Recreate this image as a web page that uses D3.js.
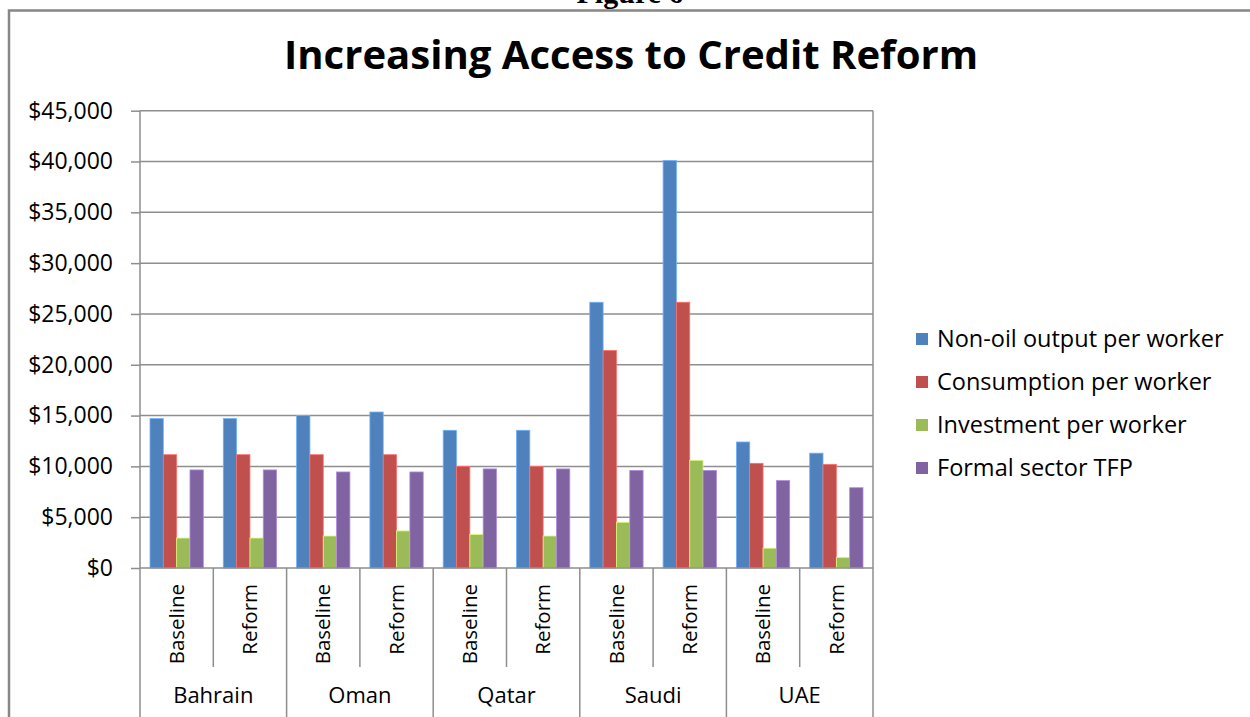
<!DOCTYPE html>
<html>
<head>
  <meta charset="utf-8">
  <title>Increasing Access to Credit Reform</title>
  <style>
    body { margin: 0; background: #fff; }
    text { font-family: "Open Sans", sans-serif; fill: #000; }
  </style>
</head>
<body>
  <svg width="1250" height="717"></svg>
  <script src="https://d3js.org/d3.v7.min.js"></script>
  <script>
    // chart data
    var countries = ["Bahrain", "Oman", "Qatar", "Saudi", "UAE"];
    var scenarios = ["Baseline", "Reform"];
    var seriesNames = ["Non-oil output per worker", "Consumption per worker",
                       "Investment per worker", "Formal sector TFP"];
    var colors = ["#4F81BD", "#C0504D", "#9BBB59", "#8064A2"];
    var nonOil      = [14700, 14700, 15000, 15350, 13550, 13550, 26150, 40100, 12400, 11300];
    var consumption = [11150, 11150, 11150, 11150, 10000, 10000, 21400, 26150, 10300, 10200];
    var investment  = [2950, 2950, 3150, 3650, 3300, 3150, 4500, 10600, 1950, 1050];
    var tfp         = [9650, 9650, 9450, 9450, 9750, 9750, 9600, 9600, 8600, 7900];
    var yTicks = [0, 5000, 10000, 15000, 20000, 25000, 30000, 35000, 40000, 45000];

    var values = [nonOil, consumption, investment, tfp];
    var slots = [];
    countries.forEach(function (c, i) {
      scenarios.forEach(function (s, j) {
        slots.push({ country: c, scenario: s, idx: i * 2 + j });
      });
    });

    var svg = d3.select("svg");
    var plotLeft = 140, plotRight = 873, plotTop = 110.7, plotBottom = 568, frameBottom = 712;

    // "Figure 6" caption, mostly cropped at the top
    svg.append("text")
      .attr("x", 630).attr("y", 3)
      .attr("text-anchor", "middle")
      .style("font-family", "'Liberation Serif', serif")
      .style("font-weight", "bold")
      .style("font-size", "30px")
      .text("Figure 6");

    // chart frame
    svg.append("rect")
      .attr("x", 9).attr("y", 10.5)
      .attr("width", 1300).attr("height", 800)
      .attr("fill", "none")
      .attr("stroke", "#878787")
      .attr("stroke-width", 2.5);

    svg.append("text")
      .attr("x", 631).attr("y", 69)
      .attr("text-anchor", "middle")
      .attr("textLength", 694)
      .attr("lengthAdjust", "spacingAndGlyphs")
      .style("font-weight", "bold")
      .style("font-size", "40px")
      .text("Increasing Access to Credit Reform");

    var y = d3.scaleLinear().domain([0, 45000]).range([plotBottom, plotTop]);
    var x = d3.scaleBand().domain(d3.range(slots.length)).range([plotLeft, plotRight]);
    var gap = x.bandwidth() * 1.5 / 5.5;
    var xs = d3.scaleBand().domain(d3.range(4)).range([gap / 2, x.bandwidth() - gap / 2]);

    // gridlines
    svg.append("g").selectAll("line")
      .data(yTicks.slice(1))
      .enter().append("line")
      .attr("x1", plotLeft).attr("x2", plotRight)
      .attr("y1", function (d) { return y(d); })
      .attr("y2", function (d) { return y(d); })
      .attr("stroke", "#8e8e8e")
      .attr("stroke-width", 1.5);

    // y axis
    var yAxis = svg.append("g")
      .attr("transform", "translate(" + plotLeft + ",0)")
      .call(d3.axisLeft(y).tickValues(yTicks).tickSize(9).tickPadding(18)
        .tickFormat(function (d) { return "$" + d3.format(",")(d); }));
    yAxis.select(".domain").remove();
    yAxis.selectAll(".tick line").attr("stroke", "#8e8e8e").attr("stroke-width", 1.5);
    yAxis.selectAll(".tick text")
      .attr("fill", "#000")
      .style("font-family", "'Open Sans', sans-serif")
      .style("font-size", "23px");

    // bars
    var groups = svg.append("g").selectAll("g")
      .data(slots)
      .enter().append("g")
      .attr("transform", function (d) { return "translate(" + x(d.idx) + ",0)"; });

    groups.selectAll("rect")
      .data(function (d) {
        return values.map(function (arr, k) { return { k: k, v: arr[d.idx] }; });
      })
      .enter().append("rect")
      .attr("x", function (d) { return xs(d.k); })
      .attr("width", xs.bandwidth())
      .attr("y", function (d) { return y(d.v); })
      .attr("height", function (d) { return y(0) - y(d.v); })
      .attr("fill", function (d) { return colors[d.k]; })
      .attr("stroke", function (d) { return d3.color(colors[d.k]).brighter(0.9); })
      .attr("stroke-width", 0.8);

    // axis lines and category dividers
    svg.append("line")
      .attr("x1", plotLeft).attr("x2", plotRight).attr("y1", plotBottom).attr("y2", plotBottom)
      .attr("stroke", "#8e8e8e").attr("stroke-width", 1.5);
    svg.append("g").selectAll("line")
      .data(d3.range(slots.length + 1))
      .enter().append("line")
      .attr("x1", function (d) { return d === slots.length ? plotRight : x(d); })
      .attr("x2", function (d) { return d === slots.length ? plotRight : x(d); })
      .attr("y1", function (d) { return d === 0 || d === slots.length ? plotTop : plotBottom; })
      .attr("y2", function (d) { return d % 2 === 0 ? frameBottom + 10 : 667; })
      .attr("stroke", "#8e8e8e")
      .attr("stroke-width", 1.5);

    // scenario labels (rotated)
    svg.append("g").selectAll("text")
      .data(slots)
      .enter().append("text")
      .attr("transform", function (d) {
        return "translate(" + (x(d.idx) + x.bandwidth() / 2) + ",584) rotate(-90)";
      })
      .attr("text-anchor", "end")
      .attr("dy", "0.35em")
      .style("font-size", "20.5px")
      .text(function (d) { return d.scenario; });

    // country labels
    svg.append("g").selectAll("text")
      .data(countries)
      .enter().append("text")
      .attr("x", function (d, i) { return x(i * 2) + x.bandwidth(); })
      .attr("y", 703)
      .attr("text-anchor", "middle")
      .style("font-size", "22px")
      .text(function (d) { return d; });

    // legend
    var legend = svg.append("g").selectAll("g")
      .data(seriesNames)
      .enter().append("g")
      .attr("transform", function (d, i) { return "translate(916," + (339 + i * 43) + ")"; });
    legend.append("rect")
      .attr("x", 0).attr("y", -6)
      .attr("width", 12).attr("height", 12)
      .attr("fill", function (d, i) { return colors[i]; });
    legend.append("text")
      .attr("x", 21).attr("dy", "0.35em")
      .style("font-size", "23.5px")
      .text(function (d) { return d; });
  </script>
</body>
</html>
